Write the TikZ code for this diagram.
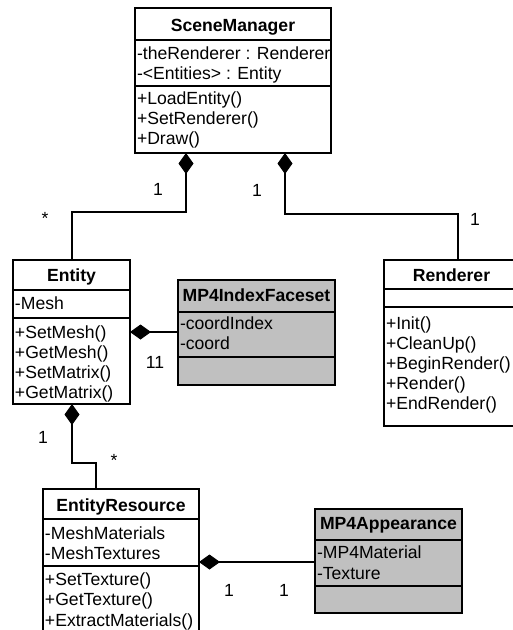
\documentclass[tikz,border=0pt]{standalone}
\usepackage{fontspec}
\setmainfont{Liberation Sans}
\usetikzlibrary{arrows.meta}
\definecolor{boxgray}{RGB}{192,192,192}
\newcommand{\fs}{\fontsize{17.6}{20}\selectfont}
\begin{document}
\begin{tikzpicture}[x=1pt,y=-1pt,line width=2.4pt,
  every node/.style={inner sep=0pt,outer sep=0pt},
  cls/.style={draw,fill=white,anchor=north west,line width=2.4pt},
  grcls/.style={cls,fill=boxgray},
  ttl/.style={font=\fs\bfseries,anchor=base},
  ln/.style={font=\fs,anchor=base west},
  lab/.style={font=\fs,anchor=base},
  comp/.style={{Diamond[length=21pt,width=15pt,line width=1pt]}-}]
\clip (0,0) rectangle (513,630);
\fill[white] (0,0) rectangle (513,630);
% SceneManager
\node[cls,minimum width=196pt,minimum height=145pt] (sm) at (135,8) {};
\draw (135,40) -- (331,40);
\draw (135,86) -- (331,86);
\node[ttl] (smt) at (233,31) {SceneManager};
\node[ln] (sma1) at (137,59) {-theRenderer : Renderer};
\node[ln] (sma2) at (137,79) {-<Entities> : Entity};
\node[ln] (smm1) at (137,104) {+LoadEntity()};
\node[ln] (smm2) at (137,124) {+SetRenderer()};
\node[ln] (smm3) at (137,144) {+Draw()};
% Entity
\node[cls,minimum width=117pt,minimum height=144pt] (ent) at (13,260) {};
\draw (13,290) -- (130,290);
\draw (13,318) -- (130,318);
\node[ttl] (entt) at (71.5,281) {Entity};
\node[ln] (enta1) at (15,309) {-Mesh};
\node[ln] (entm1) at (15,338) {+SetMesh()};
\node[ln] (entm2) at (15,358) {+GetMesh()};
\node[ln] (entm3) at (15,378) {+SetMatrix()};
\node[ln] (entm4) at (15,398) {+GetMatrix()};
% MP4IndexFaceset
\node[grcls,minimum width=157pt,minimum height=105pt] (mif) at (178,280) {};
\draw (178,312) -- (335,312);
\draw (178,357) -- (335,357);
\node[ttl] (mift) at (256.5,301) {MP4IndexFaceset};
\node[ln] (mifa1) at (180,329) {-coordIndex};
\node[ln] (mifa2) at (180,349) {-coord};
% Renderer
\node[cls,minimum width=135pt,minimum height=166pt] (ren) at (384,260) {};
\draw (384,289) -- (519,289);
\draw (384,307) -- (519,307);
\node[ttl] (rent) at (451.5,281) {Renderer};
\node[ln] (renm1) at (386,329) {+Init()};
\node[ln] (renm2) at (386,349) {+CleanUp()};
\node[ln] (renm3) at (386,369) {+BeginRender()};
\node[ln] (renm4) at (386,389) {+Render()};
\node[ln] (renm5) at (386,409) {+EndRender()};
% EntityResource
\node[cls,minimum width=156pt,minimum height=160pt] (er) at (43,489) {};
\draw (43,519) -- (199,519);
\draw (43,566) -- (199,566);
\node[ttl] (ert) at (121,511) {EntityResource};
\node[ln] (era1) at (45,539) {-MeshMaterials};
\node[ln] (era2) at (45,559) {-MeshTextures};
\node[ln] (erm1) at (45,585) {+SetTexture()};
\node[ln] (erm2) at (45,605) {+GetTexture()};
\node[ln] (erm3) at (45,626) {+ExtractMaterials()};
% MP4Appearance
\node[grcls,minimum width=147pt,minimum height=104pt] (app) at (315,509) {};
\draw (315,540) -- (462,540);
\draw (315,586) -- (462,586);
\node[ttl] (appt) at (388.5,529) {MP4Appearance};
\node[ln] (appa1) at (317,558) {-MP4Material};
\node[ln] (appa2) at (317,579) {-Texture};
% connectors
\draw[comp] ([xshift=51pt]sm.south west) -- ++(0,59) -| ([xshift=59pt]ent.north west);
\draw[comp] ([xshift=150pt]sm.south west) -- ++(0,61) -| ([xshift=74pt]ren.north west);
\draw[comp] (ent.east |- 0,332) -- (mif.west |- 0,332);
\draw[comp] ([xshift=59pt]ent.south west) -- ++(0,59) -| ([xshift=53pt]er.north west);
\draw[comp] (er.east |- 0,562) -- (app.west |- 0,562);
% labels
\node[lab] (l1) at (158,195) {1};
\node[lab] (l2) at (257,196) {1};
\node[lab] (l3) at (475,225) {1};
\node[lab] (l4) at (45,224) {*};
\node[lab] (l5) at (155,368) {11};
\node[lab] (l6) at (43,443) {1};
\node[lab] (l7) at (114,466) {*};
\node[lab] (l8) at (229,596) {1};
\node[lab] (l9) at (284,596) {1};
\end{tikzpicture}
\end{document}
